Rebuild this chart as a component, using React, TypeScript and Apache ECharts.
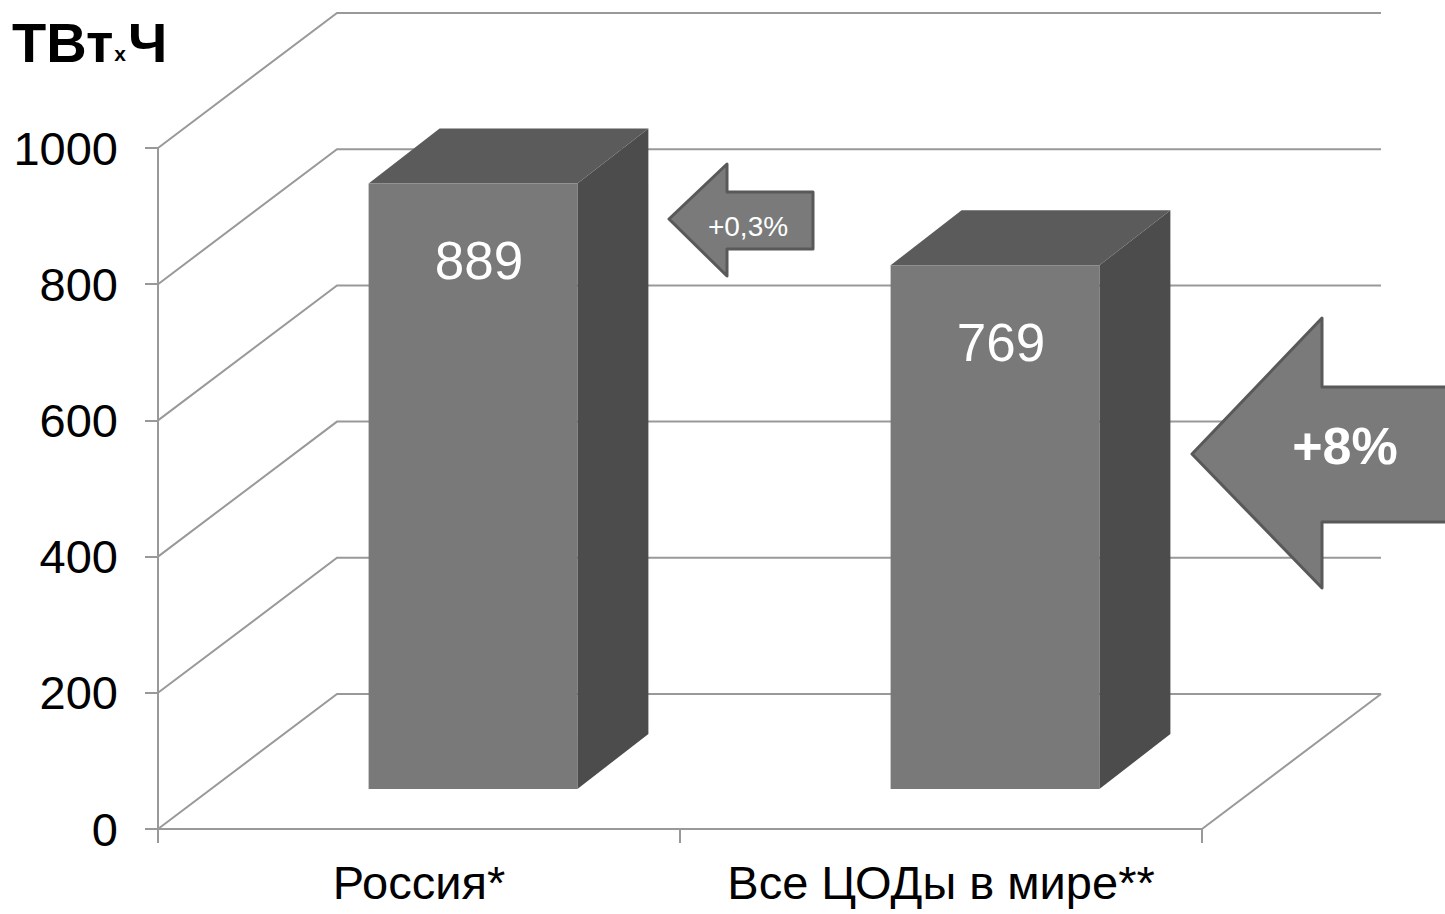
import React, { useEffect, useRef } from "react";
import * as echarts from "echarts";

const categories = ["Россия*", "Все ЦОДы в мире**"];
const values = [889, 769];
const yTicks = [0, 200, 400, 600, 800, 1000];
const smallNote = "+0,3%";
const bigNote = "+8%";

const FONT = "'Liberation Sans', Arial, sans-serif";
const GRID_COLOR = "#999999";
// wall depth offset (pixels)
const WDX = 179;
const WDY = -135;
// bar front offset inside depth
const FDX = 54;
const FDY = -40;
// bar depth
const BDX = 71;
const BDY = -55;

export default function App() {
  const ref = useRef<HTMLDivElement>(null);
  useEffect(() => {
    document.body.style.margin = "0";
    const chart = echarts.init(ref.current!, null, { renderer: "svg" });
    const option: any = {
      animation: false,
      backgroundColor: "#ffffff",
      grid: { left: 158, right: 243, top: 148, bottom: 85, containLabel: false },
      xAxis: {
        type: "category",
        data: categories,
        axisLine: { show: true, lineStyle: { color: GRID_COLOR, width: 2 } },
        axisTick: { show: true, length: 14, lineStyle: { color: GRID_COLOR, width: 2 } },
        axisLabel: { color: "#000", fontSize: 47, fontFamily: FONT, margin: 30, interval: 0 },
        splitLine: { show: false },
      },
      yAxis: {
        type: "value",
        min: 0,
        max: 1000,
        interval: 200,
        axisLine: { show: true, lineStyle: { color: GRID_COLOR, width: 2 } },
        axisTick: { show: true, length: 13, lineStyle: { color: GRID_COLOR, width: 2 } },
        axisLabel: {
          color: "#000",
          fontSize: 47,
          fontFamily: FONT,
          margin: 40,
          formatter: (v: number) => String(v),
        },
        splitLine: { show: false },
      },
      series: [
        {
          type: "custom",
          clip: false,
          silent: true,
          z: 1,
          data: yTicks.map((v) => [0, v]),
          renderItem: (params: any, api: any) => {
            const cs = params.coordSys;
            const v = api.value(1);
            const y = api.coord([0, v])[1];
            const x0 = cs.x;
            const x1 = cs.x + cs.width;
            const children: any[] = [
              {
                type: "polyline",
                shape: {
                  points: [
                    [x0, y],
                    [x0 + WDX, y + WDY],
                    [x1 + WDX, y + WDY],
                  ],
                },
                style: { stroke: GRID_COLOR, lineWidth: 2, fill: null },
              },
            ];
            if (v === 0) {
              children.push({
                type: "line",
                shape: { x1: x1, y1: y, x2: x1 + WDX, y2: y + WDY },
                style: { stroke: GRID_COLOR, lineWidth: 2 },
              });
            }
            return { type: "group", children };
          },
        },
        {
          type: "custom",
          clip: false,
          silent: true,
          z: 2,
          data: values.map((v, i) => [i, v]),
          renderItem: (params: any, api: any) => {
            const idx = api.value(0);
            const val = api.value(1);
            const top = api.coord([idx, val]);
            const base = api.coord([idx, 0]);
            const bw = api.size([1, 0])[0] * 0.4;
            const xL = top[0] - bw / 2 + FDX;
            const xR = xL + bw;
            const yT = top[1] + FDY;
            const yB = base[1] + FDY;
            return {
              type: "group",
              children: [
                {
                  type: "polygon",
                  shape: {
                    points: [
                      [xR, yT],
                      [xR + BDX, yT + BDY],
                      [xR + BDX, yB + BDY],
                      [xR, yB],
                    ],
                  },
                  style: { fill: "#4c4c4c" },
                },
                {
                  type: "polygon",
                  shape: {
                    points: [
                      [xL, yT],
                      [xR, yT],
                      [xR + BDX, yT + BDY],
                      [xL + BDX, yT + BDY],
                    ],
                  },
                  style: { fill: "#5b5b5b" },
                },
                {
                  type: "rect",
                  shape: { x: xL, y: yT, width: bw, height: yB - yT },
                  style: { fill: "#797979" },
                },
                {
                  type: "text",
                  x: (xL + xR) / 2 + 6,
                  y: yT + 77,
                  style: {
                    text: String(val),
                    fill: "#ffffff",
                    fontSize: 53,
                    fontFamily: FONT,
                    align: "center",
                    verticalAlign: "middle",
                  },
                },
              ],
            };
          },
        },
      ],
      graphic: [
        {
          type: "text",
          left: 12,
          top: 14,
          z: 10,
          style: {
            text: "{a|ТВт}{b|х}{a|Ч}",
            rich: {
              a: { fontSize: 56, fontWeight: "bold", fontFamily: FONT, fill: "#000", verticalAlign: "bottom", lineHeight: 60 },
              b: { fontSize: 21, fontWeight: "bold", fontFamily: FONT, fill: "#000", verticalAlign: "bottom", lineHeight: 22, padding: [0, 2, 6, 1] },
            },
          },
        },
        {
          type: "polygon",
          z: 10,
          shape: {
            points: [
              [669, 219],
              [727, 164],
              [727, 192],
              [813, 192],
              [813, 249],
              [727, 249],
              [727, 276],
            ],
          },
          style: { fill: "#7a7a7a", stroke: "#595959", lineWidth: 3, lineJoin: "round" },
        },
        {
          type: "text",
          z: 11,
          x: 748,
          y: 226,
          style: {
            text: smallNote,
            fill: "#ffffff",
            fontSize: 28,
            fontFamily: FONT,
            align: "center",
            verticalAlign: "middle",
          },
        },
        {
          type: "polygon",
          z: 10,
          shape: {
            points: [
              [1192, 454],
              [1322, 318],
              [1322, 387],
              [1470, 387],
              [1470, 522],
              [1322, 522],
              [1322, 588],
            ],
          },
          style: { fill: "#7a7a7a", stroke: "#595959", lineWidth: 3, lineJoin: "round" },
        },
        {
          type: "text",
          z: 11,
          x: 1345,
          y: 446,
          style: {
            text: bigNote,
            fill: "#ffffff",
            fontSize: 52,
            fontWeight: "bold",
            fontFamily: FONT,
            align: "center",
            verticalAlign: "middle",
          },
        },
      ],
    };
    chart.setOption(option);
    return () => chart.dispose();
  }, []);
  return <div ref={ref} style={{ width: 1445, height: 914 }} />;
}
